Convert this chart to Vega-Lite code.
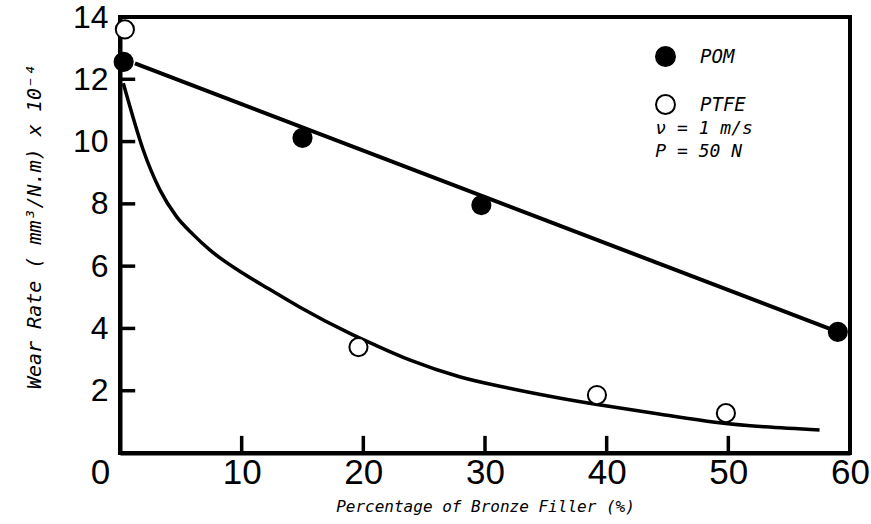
{
  "$schema": "https://vega.github.io/schema/vega-lite/v6.json",
  "width": 730,
  "height": 436,
  "autosize": {"type": "none"},
  "padding": {"left": 120, "top": 17, "right": 21, "bottom": 71},
  "background": "white",
  "config": {
    "view": {"stroke": "black", "strokeWidth": 4},
    "axis": {
      "domainColor": "black",
      "domainWidth": 4,
      "ticks": false,
      "grid": false,
      "labelFont": "Liberation Sans",
      "labelColor": "black",
      "titleFont": "DejaVu Sans Mono",
      "titleFontStyle": "italic",
      "titleFontWeight": "normal",
      "titleColor": "black"
    }
  },
  "datasets": {
    "curve": [
      {"x": 0.27, "y": 11.87},
      {"x": 0.82, "y": 11.12},
      {"x": 1.91, "y": 9.73},
      {"x": 3.28, "y": 8.45},
      {"x": 4.65, "y": 7.59},
      {"x": 6.0, "y": 7.02},
      {"x": 7.38, "y": 6.52},
      {"x": 10.1, "y": 5.77},
      {"x": 12.5, "y": 5.21},
      {"x": 14.75, "y": 4.69},
      {"x": 18.85, "y": 3.85},
      {"x": 20.95, "y": 3.47},
      {"x": 23.8, "y": 2.99},
      {"x": 27.9, "y": 2.45},
      {"x": 32.0, "y": 2.08},
      {"x": 36.2, "y": 1.76},
      {"x": 40.3, "y": 1.49},
      {"x": 44.3, "y": 1.25},
      {"x": 48.9, "y": 0.99},
      {"x": 53, "y": 0.84},
      {"x": 57.5, "y": 0.74}
    ],
    "pomline": [
      {"x": 1.23, "y": 12.51},
      {"x": 59, "y": 3.89}
    ],
    "points": [
      {"series": "POM", "x": 0.3, "y": 12.56},
      {"series": "POM", "x": 15, "y": 10.12},
      {"series": "POM", "x": 29.7, "y": 7.96},
      {"series": "POM", "x": 59, "y": 3.89},
      {"series": "PTFE", "x": 0.4, "y": 13.6},
      {"series": "PTFE", "x": 19.6, "y": 3.4},
      {"series": "PTFE", "x": 39.2, "y": 1.86},
      {"series": "PTFE", "x": 49.8, "y": 1.28}
    ],
    "xticks": [
      {"x": 10, "y": 0, "y2": 0.55},
      {"x": 20, "y": 0, "y2": 0.55},
      {"x": 30, "y": 0, "y2": 0.55},
      {"x": 40, "y": 0, "y2": 0.55},
      {"x": 50, "y": 0, "y2": 0.55}
    ],
    "yticks": [
      {"y": 2, "x": 0, "x2": 1.25},
      {"y": 4, "x": 0, "x2": 1.25},
      {"y": 6, "x": 0, "x2": 1.25},
      {"y": 8, "x": 0, "x2": 1.25},
      {"y": 10, "x": 0, "x2": 1.25},
      {"y": 12, "x": 0, "x2": 1.25}
    ],
    "notes": [
      {"x": 44.0, "y": 10.39, "t": "ν = 1  m/s"},
      {"x": 44.0, "y": 9.65, "t": "P = 50  N"}
    ]
  },
  "encoding": {
    "x": {
      "field": "x", "type": "quantitative",
      "scale": {"domain": [0, 60], "nice": false, "zero": false},
      "axis": {
        "values": [0, 10, 20, 30, 40, 50, 60],
        "title": "Percentage of Bronze Filler (%)",
        "titleFontSize": 16,
        "titlePadding": 8,
        "labelFontSize": 35,
        "labelPadding": 2,
        "labelFlush": false,
        "labelOffset": {"condition": {"test": "datum.value == 0", "value": -20}, "value": 0}
      }
    },
    "y": {
      "field": "y", "type": "quantitative",
      "scale": {"domain": [0, 14], "nice": false},
      "axis": {
        "values": [2, 4, 6, 8, 10, 12, 14],
        "title": "Wear  Rate  ( mm³/N.m)  x  10⁻⁴",
        "titleFontSize": 20,
        "titlePadding": 28,
        "titleY": 209,
        "labelFontSize": 32,
        "labelPadding": 12,
        "labelFlush": false
      }
    }
  },
  "layer": [
    {
      "data": {"name": "curve"},
      "mark": {"type": "line", "color": "black", "strokeWidth": 3.5, "interpolate": "monotone"}
    },
    {
      "data": {"name": "pomline"},
      "mark": {"type": "line", "color": "black", "strokeWidth": 4}
    },
    {
      "data": {"name": "xticks"},
      "mark": {"type": "rule", "color": "black", "strokeWidth": 3.5},
      "encoding": {"y2": {"field": "y2"}}
    },
    {
      "data": {"name": "yticks"},
      "mark": {"type": "rule", "color": "black", "strokeWidth": 3.5},
      "encoding": {"x2": {"field": "x2"}}
    },
    {
      "data": {"name": "points"},
      "mark": {"type": "point", "shape": "circle", "filled": true, "stroke": "black", "strokeWidth": 2, "size": 330, "opacity": 1},
      "encoding": {
        "fill": {
          "field": "series", "type": "nominal",
          "scale": {"domain": ["POM", "PTFE"], "range": ["black", "white"]},
          "legend": {
            "orient": "none",
            "legendX": 535,
            "legendY": 29,
            "title": null,
            "symbolType": "circle",
            "symbolSize": 360,
            "symbolStrokeColor": "black",
            "symbolStrokeWidth": 2,
            "symbolOpacity": 1,
            "labelFont": "DejaVu Sans Mono",
            "labelFontStyle": "italic",
            "labelFontSize": 19,
            "labelColor": "black",
            "labelOffset": 24,
            "rowPadding": 21
          }
        }
      }
    },
    {
      "data": {"name": "notes"},
      "mark": {"type": "text", "align": "left", "baseline": "middle", "font": "DejaVu Sans Mono", "fontStyle": "italic", "fontSize": 18, "color": "black"},
      "encoding": {"text": {"field": "t"}}
    }
  ]
}
